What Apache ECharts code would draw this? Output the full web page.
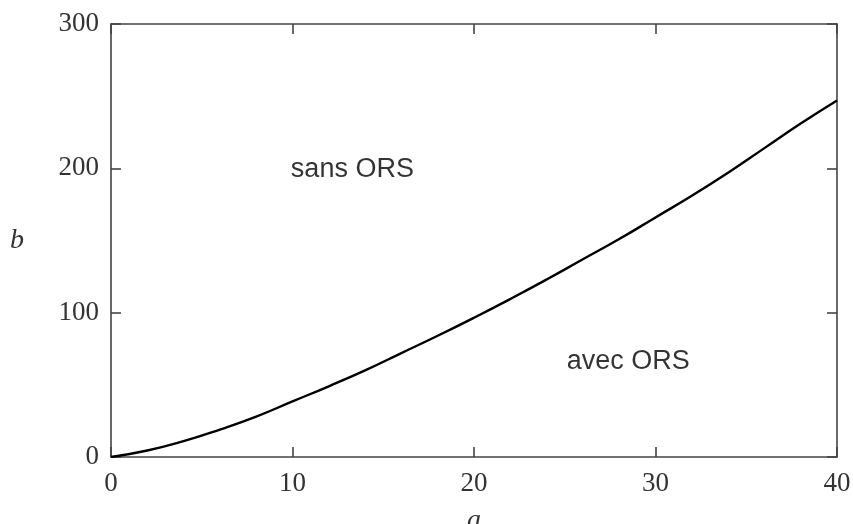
<!DOCTYPE html>
<html>
<head>
<meta charset="utf-8">
<script src="https://cdn.jsdelivr.net/npm/echarts@6/dist/echarts.min.js"></script>
<style>
  html, body { margin: 0; padding: 0; background: #fff; }
  #chart { width: 853px; height: 524px; }
</style>
</head>
<body>
<div id="chart"></div>
<script>
// valeurs
const aValues = [0, 2, 4, 6, 8, 10, 12, 14, 16, 18, 20, 22, 24, 26, 28, 30, 32, 34, 36, 38, 40]
const bValues = [0, 4.5, 11, 19, 28, 38.5, 49, 60, 72, 84, 96.5, 109.5, 123, 137, 151, 166, 181, 197, 214, 231, 247]
// étiquettes des zones
const zoneLabels = ['sans ORS', 'avec ORS']
const zoneA = [13.3, 28.5]
const zoneB = [199, 66]

const myChart = echarts.init(document.getElementById('chart'))

const axisColor = '#444'
const serif = 'Liberation Serif'

const option = {
  animation: false,
  grid: { left: 111, top: 24, right: 16, bottom: 67, outerBoundsMode: 'none', containLabel: false },
  xAxis: [
    {
      type: 'value', min: 0, max: 40, interval: 10,
      name: 'a', nameLocation: 'middle', nameGap: 50,
      nameTextStyle: { fontFamily: serif, fontStyle: 'italic', fontSize: 28, color: '#333' },
      axisLine: { show: true, onZero: false, lineStyle: { color: axisColor, width: 1.6 } },
      axisTick: { show: true, inside: true, length: 10, lineStyle: { color: axisColor, width: 1.6 } },
      axisLabel: { fontFamily: serif, fontSize: 27, color: '#333', margin: 13 },
      splitLine: { show: false }
    },
    {
      type: 'value', min: 0, max: 40, interval: 10, position: 'top',
      axisLine: { show: true, onZero: false, lineStyle: { color: axisColor, width: 1.6 } },
      axisTick: { show: true, inside: true, length: 10, lineStyle: { color: axisColor, width: 1.6 } },
      axisLabel: { show: false },
      splitLine: { show: false }
    }
  ],
  yAxis: [
    {
      type: 'value', min: 0, max: 300, interval: 100,
      name: 'b', nameLocation: 'middle', nameGap: 87, nameRotate: 0,
      nameTextStyle: { fontFamily: serif, fontStyle: 'italic', fontSize: 28, color: '#333' },
      axisLine: { show: true, onZero: false, lineStyle: { color: axisColor, width: 1.6 } },
      axisTick: { show: true, inside: true, length: 10, lineStyle: { color: axisColor, width: 1.6 } },
      axisLabel: { fontFamily: serif, fontSize: 27, color: '#333', margin: 12 },
      splitLine: { show: false }
    },
    {
      type: 'value', min: 0, max: 300, interval: 100, position: 'right',
      axisLine: { show: true, onZero: false, lineStyle: { color: axisColor, width: 1.6 } },
      axisTick: { show: true, inside: true, length: 10, lineStyle: { color: axisColor, width: 1.6 } },
      axisLabel: { show: false },
      splitLine: { show: false }
    }
  ],
  series: [
    {
      type: 'line',
      data: aValues.map((a, i) => [a, bValues[i]]),
      smooth: true,
      showSymbol: false,
      lineStyle: { color: '#000', width: 2.4 }
    },
    {
      type: 'scatter',
      symbolSize: 0,
      data: zoneLabels.map((t, i) => ({ value: [zoneA[i], zoneB[i]], name: t })),
      label: {
        show: true,
        position: [0, 0],
        align: 'center',
        verticalAlign: 'middle',
        formatter: p => p.name,
        fontFamily: 'Liberation Sans',
        fontSize: 27,
        color: '#000'
      }
    }
  ]
}

option && myChart.setOption(option)
</script>
</body>
</html>
